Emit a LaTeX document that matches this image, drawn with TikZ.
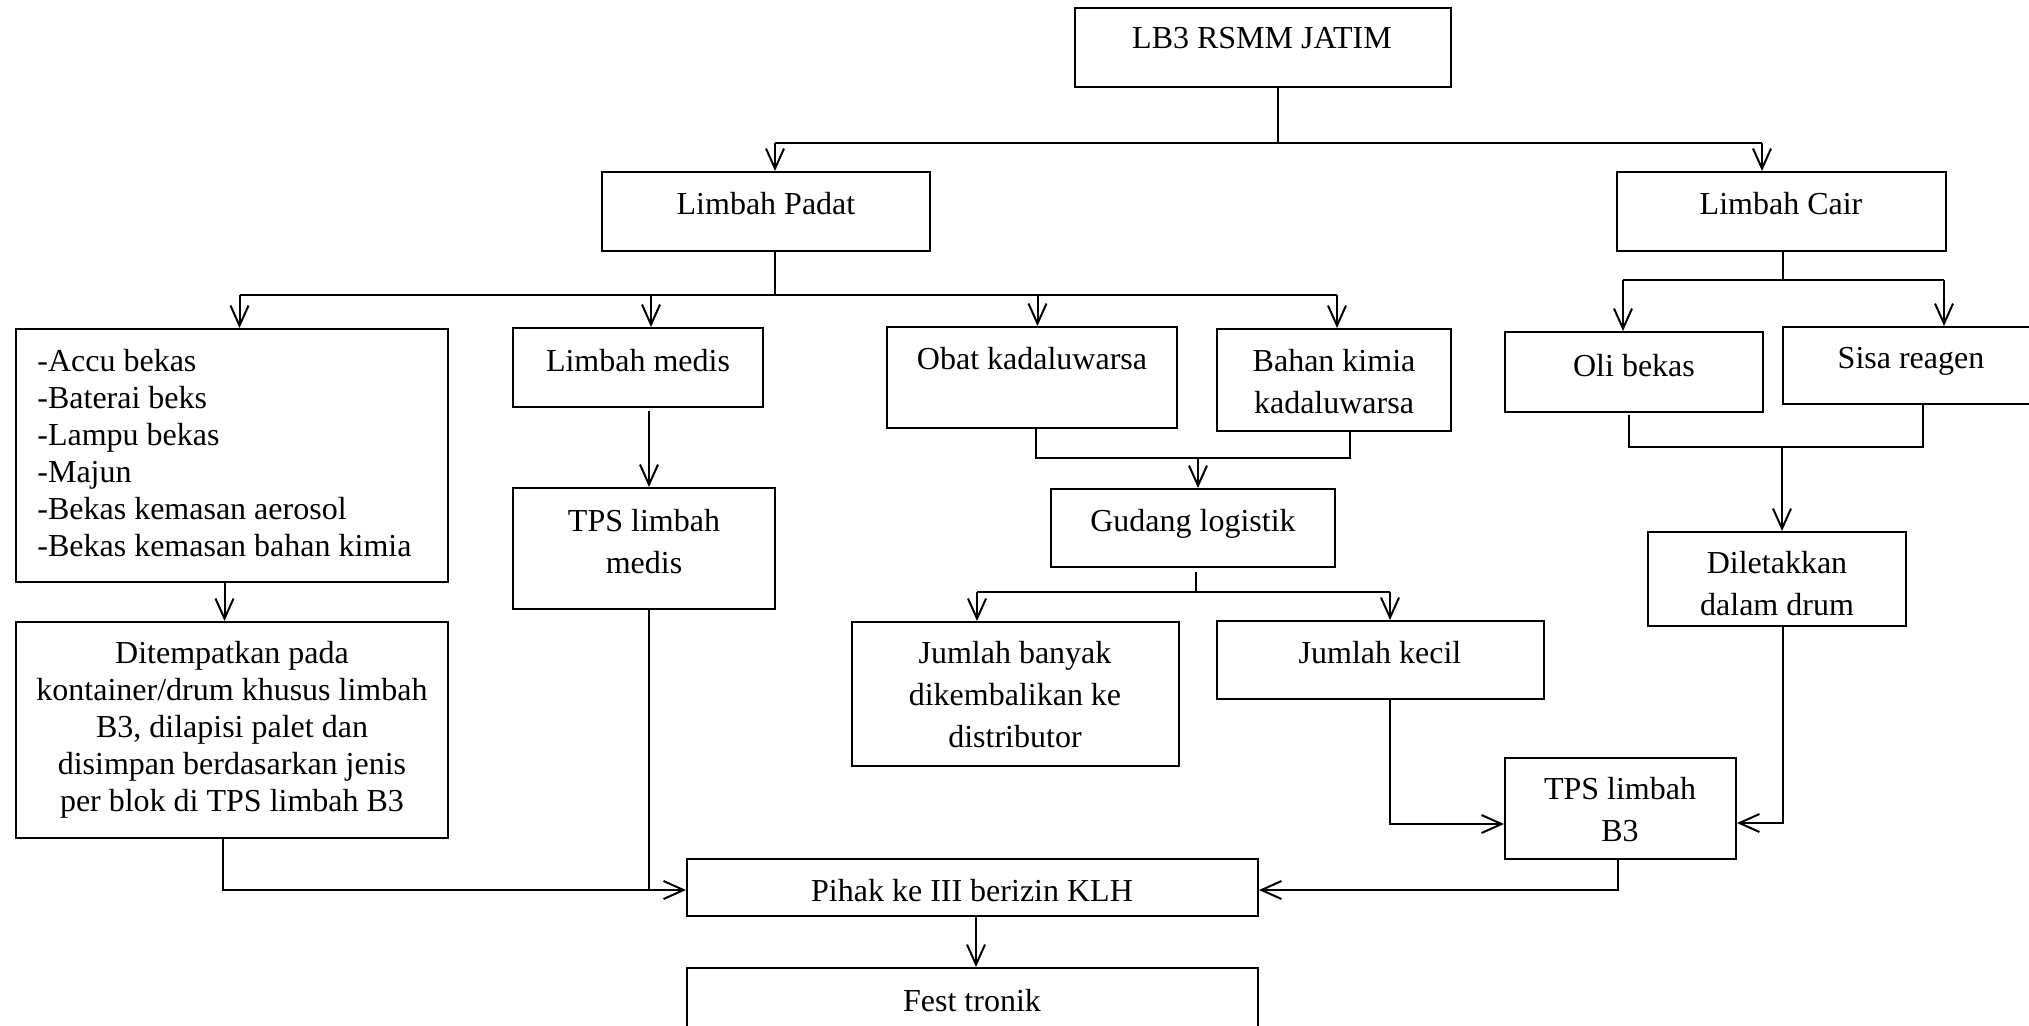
\documentclass[tikz,border=0pt]{standalone}
\usepackage{fontspec}
\setmainfont{Liberation Serif}
\usetikzlibrary{arrows.meta,fit}
\tikzset{
  box/.style={draw, line width=1pt, inner sep=0pt},
  txt/.style={inner sep=0pt, anchor=north, font=\fontsize{16}{20.85}\selectfont, align=center},
  ttxt/.style={inner sep=0pt, anchor=north, font=\fontsize{16}{18.5}\selectfont, align=center},
  ltxt/.style={inner sep=0pt, anchor=north west, font=\fontsize{16}{18.5}\selectfont, align=left},
  ln/.style={line width=1pt},
  arr/.style={line width=1pt, -{Straight Barb[length=10pt,width=9pt]}}
}
\begin{document}
\begin{tikzpicture}[x=0.5pt,y=-0.5pt]
\useasboundingbox (0,0) rectangle (2029,1025);
\fill[white] (0,0) rectangle (2029,1025);
\clip (0,0) rectangle (2029,1025);
% boxes
\node[box, fit={(1075,8) (1451,87)}] (lb3) {};
\node[box, fit={(602,172) (930,251)}] (padat) {};
\node[box, fit={(1617,172) (1946,251)}] (cair) {};
\node[box, fit={(16,329) (448,582)}] (list) {};
\node[box, fit={(513,328) (763,407)}] (medis) {};
\node[box, fit={(513,488) (775,609)}] (tpsm) {};
\node[box, fit={(887,327) (1177,428)}] (obat) {};
\node[box, fit={(1217,329) (1451,431)}] (bahan) {};
\node[box, fit={(1051,489) (1335,567)}] (gudang) {};
\node[box, fit={(852,622) (1179,766)}] (banyak) {};
\node[box, fit={(1217,621) (1544,699)}] (kecil) {};
\node[box, fit={(1505,332) (1763,412)}] (oli) {};
\node[box, fit={(1783,327) (2045,404)}] (sisa) {};
\node[box, fit={(1648,532) (1906,626)}] (dilet) {};
\node[box, fit={(1505,758) (1736,859)}] (tpsb) {};
\node[box, fit={(16,622) (448,838)}] (dit) {};
\node[box, fit={(687,859) (1258,916)}] (pihak) {};
\node[box, fit={(687,968) (1258,1045)}] (fest) {};
% texts
\node[txt] (tlb3) at (1262,27) {LB3 RSMM JATIM};
\node[txt] (tpadat) at (766,192) {Limbah Padat};
\node[txt] (tcair) at (1781,192) {Limbah Cair};
\node[ltxt] (tlist) at (37,349) {-Accu bekas\\-Baterai beks\\-Lampu bekas\\-Majun\\-Bekas kemasan aerosol\\-Bekas kemasan bahan kimia};
\node[txt] (tmedis) at (638,349) {Limbah medis};
\node[txt] (ttpsm) at (644,509) {TPS limbah\\medis};
\node[txt] (tobat) at (1032,347) {Obat kadaluwarsa};
\node[txt] (tbahan) at (1334,349) {Bahan kimia\\kadaluwarsa};
\node[txt] (tgudang) at (1193,509) {Gudang logistik};
\node[txt] (tbanyak) at (1015,641) {Jumlah banyak\\dikembalikan ke\\distributor};
\node[txt] (tkecil) at (1380,641) {Jumlah kecil};
\node[txt] (toli) at (1634,354) {Oli bekas};
\node[txt] (tsisa) at (1911,347) {Sisa reagen};
\node[txt] (tdilet) at (1777,551) {Diletakkan\\dalam drum};
\node[txt] (ttpsb) at (1620,777) {TPS limbah\\B3};
\node[ttxt] (tdit) at (232,641) {Ditempatkan pada\\kontainer/drum khusus limbah\\B3, dilapisi palet dan\\disimpan berdasarkan jenis\\per blok di TPS limbah B3};
\node[txt] (tpihak) at (972,879) {Pihak ke III berizin KLH};
\node[txt] (tfest) at (972,989) {Fest tronik};
% top bus
\coordinate (t0) at (1278,143);
\coordinate (t1) at (775,143);
\coordinate (t2) at (1762,143);
\draw[ln] (lb3.south -| t0) -- (t0);
\draw[ln] (t1) -- (t2);
\draw[arr] (t1) -- (t1 |- padat.north);
\draw[arr] (t2) -- (t2 |- cair.north);
% padat bus
\coordinate (p0) at (775,295);
\coordinate (p1) at (239.5,295);
\coordinate (p2) at (651,295);
\coordinate (p3) at (1037.5,295);
\coordinate (p4) at (1337,295);
\draw[ln] (padat.south -| p0) -- (p0);
\draw[ln] (p1) -- (p4);
\draw[arr] (p1) -- (p1 |- list.north);
\draw[arr] (p2) -- (p2 |- medis.north);
\draw[arr] (p3) -- (p3 |- obat.north);
\draw[arr] (p4) -- (p4 |- bahan.north);
% medis
\coordinate (m0) at (649,411);
\draw[arr] (m0) -- (m0 |- tpsm.north);
% obat + bahan merge
\coordinate (o1) at (1036,458);
\coordinate (o2) at (1350,458);
\coordinate (o3) at (1198,458);
\draw[ln] (obat.south -| o1) -- (o1) -- (o2) -- (bahan.south -| o2);
\draw[arr] (o3) -- (o3 |- gudang.north);
% gudang split
\coordinate (g0) at (1196,572);
\coordinate (g1) at (1196,592);
\coordinate (g2) at (977,592);
\coordinate (g3) at (1390,592);
\draw[ln] (g0) -- (g1);
\draw[ln] (g2) -- (g3);
\draw[arr] (g2) -- (g2 |- banyak.north);
\draw[arr] (g3) -- (g3 |- kecil.north);
% cair bus
\coordinate (c0) at (1783,280);
\coordinate (c1) at (1623,280);
\coordinate (c2) at (1944,280);
\draw[ln] (cair.south -| c0) -- (c0);
\draw[ln] (c1) -- (c2);
\draw[arr] (c1) -- (c1 |- oli.north);
\draw[arr] (c2) -- (c2 |- sisa.north);
% oli + sisa merge
\coordinate (s0) at (1629,415);
\coordinate (s1) at (1629,447);
\coordinate (s2) at (1922.5,447);
\coordinate (s3) at (1782,447);
\draw[ln] (s0) -- (s1) -- (s2) -- (sisa.south -| s2);
\draw[arr] (s3) -- (s3 |- dilet.north);
% to TPS B3
\coordinate (k1) at (1390,824);
\draw[arr] (kecil.south -| k1) -- (k1) -- (k1 -| tpsb.west);
\coordinate (d1) at (1783,823);
\draw[arr] (dilet.south -| d1) -- (d1) -- (d1 -| tpsb.east);
\coordinate (b1) at (1618,890);
\draw[arr] (tpsb.south -| b1) -- (b1) -- (b1 -| pihak.east);
% left side
\coordinate (l1) at (224.5,600);
\draw[arr] (list.south -| l1) -- (l1 |- dit.north);
\coordinate (l2) at (223,890);
\draw[arr] (dit.south -| l2) -- (l2) -- (l2 -| pihak.west);
\coordinate (l3) at (649,890);
\draw[ln] (tpsm.south -| l3) -- (l3);
% pihak to fest
\coordinate (f1) at (976,930);
\draw[arr] (pihak.south -| f1) -- (f1 |- fest.north);
\end{tikzpicture}
\end{document}
